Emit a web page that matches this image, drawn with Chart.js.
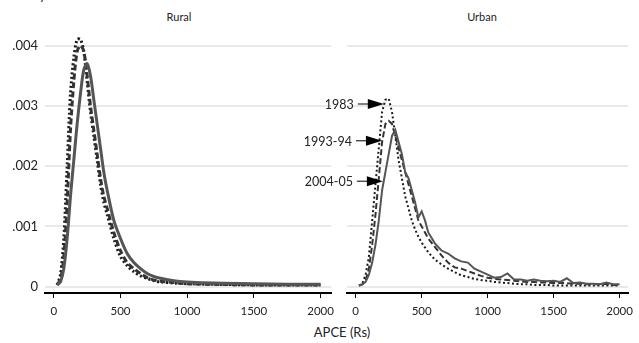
<!DOCTYPE html>
<html lang="en">
  <head>
    <meta charset="UTF-8">
    <title>Density of APCE, rural and urban</title>
    <script src="https://cdn.jsdelivr.net/npm/chart.js@4.4.1/dist/chart.umd.min.js"></script>
    <style>
      body { margin: 0; width: 639px; height: 343px; overflow: hidden; background: #fff; position: relative; font-family: Lato, 'DejaVu Sans', sans-serif; color: #222; }
      #rural { position: absolute; left: 0; top: 0; }
      #urban { position: absolute; left: 290px; top: 0; }
      .lbl { position: absolute; white-space: nowrap; }
    </style>
  </head>
  <body>
    <div class="lbl" style="left:2px; top:-13px; font-size:13px;">Density APCE</div>
    <div class="lbl" style="left:179px; top:10px; font-size:11px; transform:translateX(-50%);">Rural</div>
    <div class="lbl" style="left:482px; top:10px; font-size:11px; transform:translateX(-50%);">Urban</div>
    <div class="lbl" style="left:342px; top:324px; font-size:13px; transform:translateX(-50%);">APCE (Rs)</div>
    <canvas id="rural" width="340" height="343"></canvas>
    <canvas id="urban" width="349" height="343"></canvas>
    <script>
      // rural densities
      var ruralApce = [25, 50, 75, 100, 125, 150, 175, 200, 225, 250, 275, 300, 325, 350, 375, 400, 450, 500, 550, 600, 650, 700, 750, 800, 900, 1000, 1200, 1500, 1750, 2000];
      var rural1983 = [.00003, .0002, .0008, .002, .0032, .0038, .0041, .0041, .0039, .0034, .0029, .0025, .0021, .0017, .0014, .0012, .0008, .0005, .00035, .00025, .00018, .00014, .0001, .00008, .00006, .00005, .00004, .00003, .00003, .00003];
      var rural1994 = [.00003, .00012, .0005, .0014, .0026, .0034, .0039, .0040, .0039, .0035, .0030, .0026, .0022, .0018, .0015, .0013, .0009, .0006, .0004, .0003, .00022, .00015, .00011, .00009, .00007, .00005, .00004, .00003, .00003, .00003];
      var rural2005 = [.00003, .00008, .0003, .0008, .0015, .0021, .0027, .0032, .0036, .0037, .0035, .0031, .0027, .0023, .0019, .0016, .0011, .0008, .00055, .0004, .0003, .00022, .00017, .00014, .0001, .00008, .00006, .00005, .00004, .00004];

      // urban densities
      var urbanApce = [25, 50, 75, 100, 125, 150, 175, 200, 225, 250, 275, 300, 325, 350, 375, 400, 425, 450, 475, 500, 525, 550,
        600, 650, 700, 750, 800, 850, 900, 950, 1000, 1050, 1100, 1150, 1200, 1250, 1300, 1350, 1400, 1450, 1500, 1550, 1600, 1650, 1700, 1750, 1800, 1850, 1900, 1950, 2000];
      var urban1983 = [.00002, .00005, .0002, .0005, .0011, .0017, .0023, .0029, .0031, .00312, .0029, .0025, .0021, .0018, .0015, .0013, .0011, .00095, .00083, .00073, .00065, .00057,
        .00045, .00037, .0003, .00024, .00019, .00016, .00013, .00011, .0001, .00008, .00007, .00006, .00005, .00004, .00004, .00003, .00003, .00003, .00002, .00002, .00002, .00002, .00002, .00002, .00002, .00002, .00002, .00002, .00002];
      var urban1994 = [.00002, .00004, .0001, .0003, .0007, .0012, .0018, .0024, .0027, .00275, .0027, .0025, .0023, .0021, .0019, .0017, .0015, .0013, .0011, .001, .0009, .0008,
        .00066, .00052, .0004, .00032, .0003, .00026, .00022, .00018, .00015, .00013, .00012, .00011, .0001, .00009, .00008, .00008, .00007, .00007, .00006, .00006, .00006, .00005, .00005, .00004, .00004, .00004, .00005, .00003, .00003];
      var urban2005 = [.00002, .00004, .00008, .0002, .0004, .0007, .0011, .0016, .0019, .0022, .0025, .0026, .0024, .0022, .0019, .0018, .0016, .0014, .00115, .00125, .0011, .0009,
        .00072, .0006, .00055, .00047, .00042, .0004, .0003, .00025, .0002, .00015, .00016, .00022, .00012, .00012, .0001, .00012, .0001, .00009, .0001, .00008, .00014, .00006, .00007, .00005, .00005, .00004, .00007, .00004, .00004];

      // arrow labels on the urban panel
      var arrowLabels = ['1983', '1993-94', '2004-05'];
      var arrowApce = [213, 199, 206];
      var arrowDensity = [.00303, .00242, .00175];

      var yTicks = [0, .001, .002, .003, .004];
      var xTicks = [0, 500, 1000, 1500, 2000];

      var font = "Lato, 'DejaVu Sans', sans-serif";
      Chart.defaults.font.family = font;
      Chart.defaults.color = '#222';

      function pts(xs, ys) {
        return xs.map(function (x, i) { return { x: x, y: ys[i] }; });
      }

      var arrows = {
        id: 'arrows',
        afterDatasetsDraw: function (chart) {
          var ctx = chart.ctx, xs = chart.scales.x, ys = chart.scales.y;
          ctx.save();
          ctx.strokeStyle = '#000';
          ctx.lineWidth = 1;
          ctx.font = '12.5px ' + font;
          ctx.textAlign = 'right';
          ctx.textBaseline = 'middle';
          arrowLabels.forEach(function (lab, i) {
            var tx = xs.getPixelForValue(arrowApce[i]);
            var ty = ys.getPixelForValue(arrowDensity[i]);
            ctx.beginPath();
            ctx.moveTo(tx - 26, ty);
            ctx.lineTo(tx - 14, ty);
            ctx.stroke();
            ctx.fillStyle = '#000';
            ctx.beginPath();
            ctx.moveTo(tx, ty);
            ctx.lineTo(tx - 16, ty - 5);
            ctx.lineTo(tx - 16, ty + 5);
            ctx.closePath();
            ctx.fill();
            ctx.fillStyle = '#222';
            ctx.fillText(lab, tx - 30, ty + 1);
          });
          ctx.restore();
        }
      };

      function panel(id, xs, a, b, c, o) {
        return new Chart(document.getElementById(id), {
          type: 'line',
          data: {
            datasets: [{
              label: '2004-05',
              data: pts(xs, c),
              borderColor: '#555',
              borderWidth: o.lw,
              pointRadius: 0,
              tension: o.tension
            }, {
              label: '1993-94',
              data: pts(xs, b),
              borderColor: '#333',
              borderWidth: o.lw,
              borderDash: [6, 3],
              pointRadius: 0,
              tension: o.tension
            }, {
              label: '1983',
              data: pts(xs, a),
              borderColor: '#1a1a1a',
              borderWidth: o.lw,
              borderDash: [2, 2.5],
              pointRadius: 0,
              tension: o.tension
            }]
          },
          options: {
            responsive: false,
            animation: false,
            layout: { autoPadding: false, padding: { top: 25, right: o.padRight, bottom: 0, left: 0 } },
            plugins: { legend: { display: false }, tooltip: { enabled: false } },
            scales: {
              x: {
                type: 'linear',
                min: o.xmin,
                max: o.xmax,
                afterBuildTicks: function (s) { s.ticks = xTicks.map(function (v) { return { value: v }; }); },
                afterFit: function (s) { s.height = 50; },
                ticks: { font: { size: 11.5 }, padding: 6, maxRotation: 0, callback: function (v) { return String(v); } },
                grid: { drawOnChartArea: false, drawTicks: true, tickLength: 5, tickColor: '#000', tickWidth: 1 },
                border: { display: true, color: '#000', width: 2 }
              },
              y: {
                min: -0.000104,
                max: 0.00434,
                afterBuildTicks: function (s) { s.ticks = yTicks.map(function (v) { return { value: v }; }); },
                afterFit: function (s) { s.width = o.yWidth; },
                ticks: {
                  display: o.yLabels,
                  padding: 7,
                  font: { size: 13 },
                  callback: function (v) { return v === 0 ? '0' : v.toFixed(3).replace(/^0/, ''); }
                },
                grid: { color: '#e9e9e9', lineWidth: 2, drawTicks: false },
                border: { display: false }
              }
            }
          },
          plugins: o.extra
        });
      }

      panel('rural', ruralApce, rural1983, rural1994, rural2005, {
        lw: 3, tension: 0.3, xmin: -66, xmax: 2081, yWidth: 45, padRight: 3, yLabels: true, extra: []
      });
      panel('urban', urbanApce, urban1983, urban1994, urban2005, {
        lw: 2, tension: 0, xmin: -66, xmax: 2066, yWidth: 57, padRight: 2, yLabels: false, extra: [arrows]
      });
    </script>
  </body>
</html>
